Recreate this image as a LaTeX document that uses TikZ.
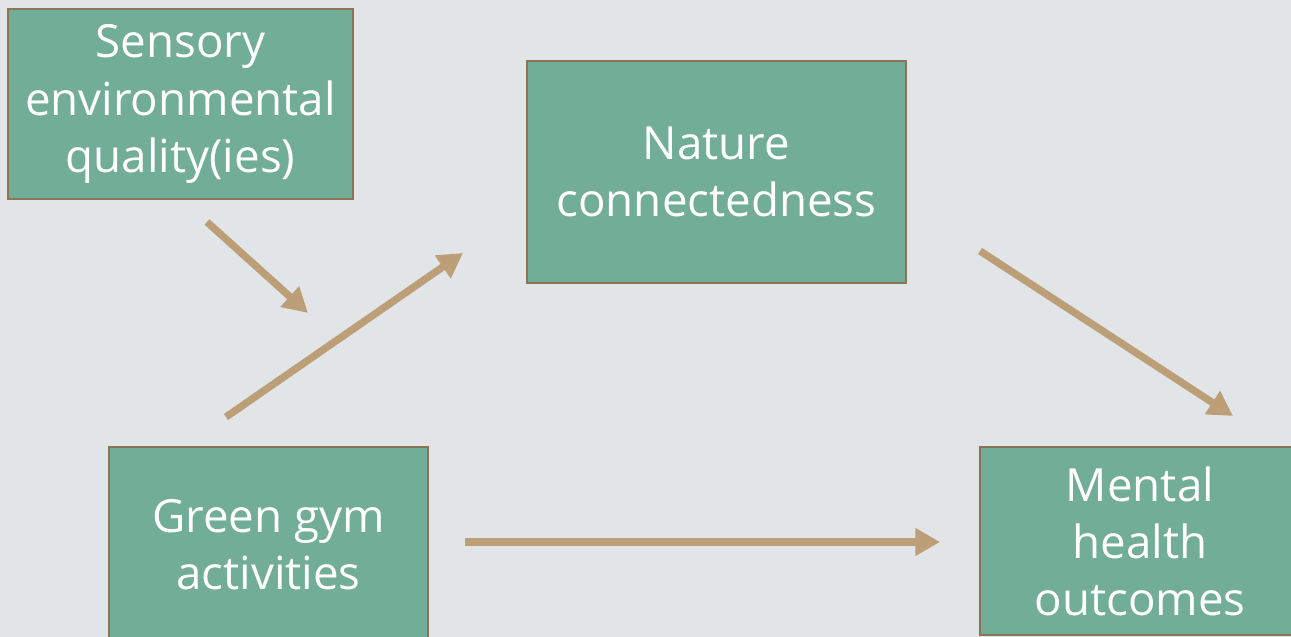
\documentclass[tikz,border=0pt]{standalone}
\usepackage{fontspec}
\setmainfont{Open Sans}
\usetikzlibrary{arrows.meta,positioning}
\definecolor{bgrey}{HTML}{E1E5E8}
\definecolor{boxteal}{HTML}{71AD97}
\definecolor{boxedge}{HTML}{8B7355}
\definecolor{arrtan}{HTML}{BC9F77}
\tikzset{
	factor/.style={draw=boxedge,line width=1.6pt,fill=boxteal,text=white,align=center,
		font=\fontsize{26}{32.5}\selectfont,inner sep=0pt},
	link/.style={draw=arrtan,line width=4.2pt,-{Triangle[length=14pt,width=15pt]}}
}
\begin{document}
\begin{tikzpicture}
	\useasboundingbox (0,0) rectangle (25.82,12.74);
	\fill[bgrey] (0,0) rectangle (25.82,12.74);
	\clip (0,0) rectangle (25.82,12.74);
	% boxes
	\node[factor,minimum width=6.9cm,minimum height=3.8cm] (sens) at (3.61,10.66) {Sensory\\environmental\\quality(ies)};
	\node[factor,minimum width=7.58cm,minimum height=4.44cm] (nat) at (14.33,9.30) {Nature\\connectedness};
	\node[factor,minimum width=6.38cm,minimum height=3.92cm] (gym) at (5.37,1.84) {Green gym\\activities};
	\node[factor,minimum width=6.4cm,minimum height=3.76cm] (ment) at (22.8,1.92) {Mental\\health\\outcomes};
	% arrow ends
	\coordinate (s1) at (4.14,8.30);
	\coordinate (s2) at (6.16,6.48);
	\coordinate (g1) at (4.52,4.40);
	\coordinate (g2) at (9.26,7.68);
	\coordinate (n1) at (19.60,7.72);
	\coordinate (n2) at (24.66,4.42);
	\coordinate (h1) at (9.30,1.90);
	\coordinate (h2) at (18.80,1.90);
	\draw[link] (s1)--(s2);
	\draw[link] (g1)--(g2);
	\draw[link] (n1)--(n2);
	\draw[link] (h1)--(h2);
\end{tikzpicture}
\end{document}
